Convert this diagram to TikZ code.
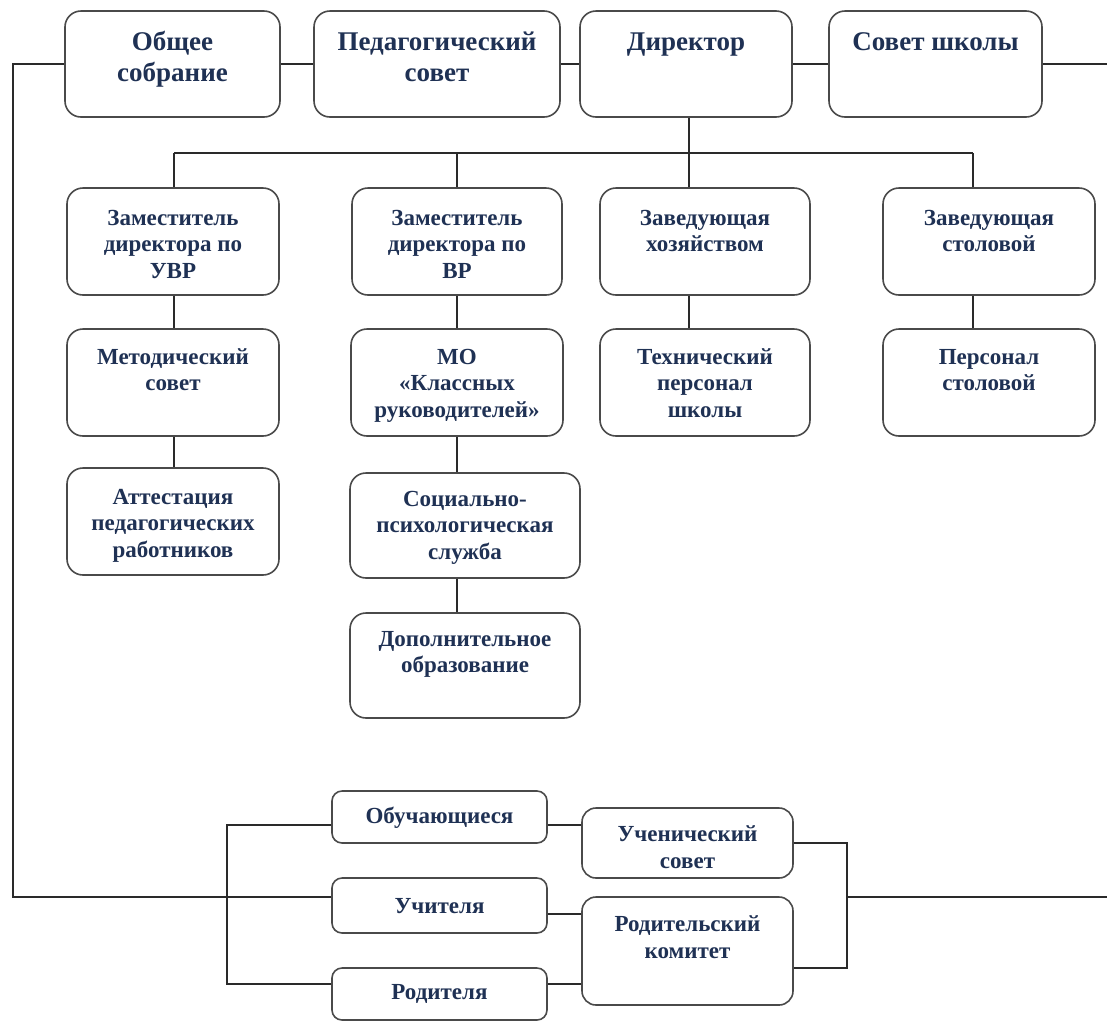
\documentclass[tikz,border=0pt]{standalone}
\usepackage{fontspec}
\setmainfont{Liberation Serif}
\definecolor{txtc}{HTML}{1F3154}
\definecolor{boxc}{HTML}{4A4A4A}
\definecolor{linec}{HTML}{2A2A2A}
\newcommand\bt[4]{\parbox[c][#2pt][t]{#1pt}{\centering\vspace*{#3pt}\strut #4\par}}
\newcommand\fsA{\fontsize{27}{31}\selectfont}
\newcommand\fsB{\fontsize{23}{26.5}\selectfont}
\newcommand\fsC{\fontsize{23}{27}\selectfont}
\begin{document}
\begin{tikzpicture}[x=1pt,y=-1pt,
  box/.style={draw=boxc, line width=1.6pt, rounded corners=16pt, inner sep=0pt, fill=white, text=txtc, font=\bfseries},
  sbox/.style={box, rounded corners=10pt},
  conn/.style={draw=linec, line width=1.5pt}]
\useasboundingbox (0,0) rectangle (1107,1021);
\fill[white] (0,0) rectangle (1107,1021);

% top row
\node[box] (os)  at (172.5,64) {\fsA\bt{215}{106}{17.3}{Общее\\собрание}};
\node[box] (ps)  at (437,64)   {\fsA\bt{246}{106}{17.3}{Педагогический\\совет}};
\node[box] (dir) at (686,64)   {\fsA\bt{212}{106}{17.3}{Директор}};
\node[box] (ss)  at (935.5,64) {\fsA\bt{213}{106}{17.3}{Совет школы}};

% row 2
\node[box] (z1) at (173,241.5) {\fsB\bt{212}{107}{18.5}{Заместитель\\директора по\\УВР}};
\node[box] (z2) at (457,241.5) {\fsB\bt{210}{107}{18.5}{Заместитель\\директора по\\ВР}};
\node[box] (z3) at (705,241.5) {\fsB\bt{210}{107}{18.5}{Заведующая\\хозяйством}};
\node[box] (z4) at (989,241.5) {\fsB\bt{212}{107}{18.5}{Заведующая\\столовой}};

% row 3
\node[box] (met)  at (173,382.5) {\fsB\bt{212}{107}{16.5}{Методический\\совет}};
\node[box] (mo)   at (457,382.5) {\fsB\bt{212}{107}{16.5}{МО\\«Классных\\руководителей»}};
\node[box] (tech) at (705,382.5) {\fsB\bt{210}{107}{16.5}{Технический\\персонал\\школы}};
\node[box] (pers) at (989,382.5) {\fsB\bt{212}{107}{16.5}{Персонал\\столовой}};

% rows 4-5
\node[box] (att) at (173,521.5) {\fsB\bt{212}{107}{17.5}{Аттестация\\педагогических\\работников}};
\node[box] (soc) at (465,525.5) {\fsB\bt{230}{105}{14.5}{Социально-\\психологическая\\служба}};
\node[box] (dop) at (465,665.5) {\fsB\bt{230}{105}{14.5}{Дополнительное\\образование}};

% bottom
\node[sbox] (obu)  at (439.5,817)   {\fsB\bt{215}{52}{13.5}{Обучающиеся}};
\node[sbox] (uchi) at (439.5,905.5) {\fsB\bt{215}{55}{16.5}{Учителя}};
\node[sbox] (rod)  at (439.5,994)   {\fsB\bt{215}{52}{12.5}{Родителя}};
\node[box, rounded corners=14pt] (usov) at (687.5,843) {\fsC\bt{211}{70}{14.5}{Ученический\\совет}};
\node[box, rounded corners=14pt] (rkom) at (687.5,951) {\fsC\bt{211}{108}{15.5}{Родительский\\комитет}};

% helper coordinates
\coordinate (L) at (13,897);
\coordinate (R) at (1107,0);
\coordinate (bA) at (174,153);
\coordinate (bB) at (457,153);
\coordinate (bC) at (689,153);
\coordinate (bD) at (973,153);
\coordinate (bl1) at (227,825);
\coordinate (bl2) at (227,984);
\coordinate (m2) at (0,914);
\coordinate (br1) at (847,843);
\coordinate (br2) at (847,968);
\coordinate (br3) at (847,897);

% top connectors
\draw[conn] (os.west) -| (L) -- (L -| uchi.west);
\draw[conn] (os.east) -- (ps.west);
\draw[conn] (ps.east) -- (dir.west);
\draw[conn] (dir.east) -- (ss.west);
\draw[conn] (ss.east) -- (ss.east -| R);

% tree
\draw[conn] (bC |- dir.south) -- (bC);
\draw[conn] (bA) -- (bD);
\draw[conn] (bA) -- (bA |- z1.north);
\draw[conn] (bB) -- (bB |- z2.north);
\draw[conn] (bC) -- (bC |- z3.north);
\draw[conn] (bD) -- (bD |- z4.north);
\draw[conn] (bA |- z1.south) -- (bA |- met.north);
\draw[conn] (bA |- met.south) -- (bA |- att.north);
\draw[conn] (bB |- z2.south) -- (bB |- mo.north);
\draw[conn] (bB |- mo.south) -- (bB |- soc.north);
\draw[conn] (bB |- soc.south) -- (bB |- dop.north);
\draw[conn] (bC |- z3.south) -- (bC |- tech.north);
\draw[conn] (bD |- z4.south) -- (bD |- pers.north);

% bottom connectors
\draw[conn] (obu.west |- bl1) -- (bl1) -- (bl2) -- (rod.west |- bl2);
\draw[conn] (obu.east |- bl1) -- (usov.west |- bl1);
\draw[conn] (uchi.east |- m2) -- (rkom.west |- m2);
\draw[conn] (rod.east |- bl2) -- (rkom.west |- bl2);
\draw[conn] (usov.east) -- (br1) -- (br2) -- (rkom.east |- br2);
\draw[conn] (br3) -- (br3 -| R);
\end{tikzpicture}
\end{document}
